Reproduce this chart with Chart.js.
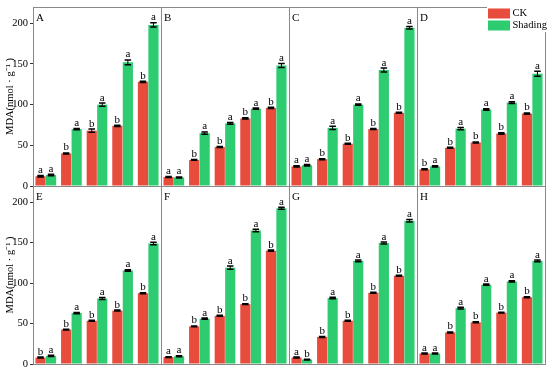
<!DOCTYPE html>
<html>
<head>
<meta charset="utf-8">
<script src="https://cdn.jsdelivr.net/npm/chart.js@4.4.1/dist/chart.umd.min.js"></script>
<style>
html,body{margin:0;padding:0;background:#fff;}
#wrap{position:relative;width:550px;height:380px;}
#wrap canvas{position:absolute;left:0;top:0;}
</style>
</head>
<body>
<div id="wrap"></div>
<script>
// MDA content, CK vs Shading, 8 panels (A-H)

const panelNames = ['A','B','C','D','E','F','G','H'];
const categories = ['S-0','S-7','S-14','S-21','S-28'];
const seriesNames = ['CK','Shading'];
const yTicks = [0, 50, 100, 150, 200];

const ckMeans = [
  [12, 40, 68, 74, 128],
  [11, 32, 48, 83, 96],
  [24, 33, 52, 70, 90],
  [20.5, 47, 53.5, 64.5, 89],
  [8, 42.5, 53.5, 66, 87.5],
  [8.5, 46.5, 59.5, 74, 140],
  [8, 33.5, 53.5, 88, 109],
  [13, 39, 51.5, 63.5, 82.5]
];
const shadingMeans = [
  [13.5, 70, 100, 152, 198],
  [10.5, 65, 77, 95, 148],
  [25.5, 71.5, 100, 142.5, 194.5],
  [24, 70.5, 94, 102.5, 138],
  [10, 63, 81, 115.5, 149],
  [9.5, 56, 119, 165, 192.5],
  [5.5, 81.5, 127.5, 149.5, 177],
  [13, 69, 98, 102, 127.5]
];
const ckErr = [
  [0.8, 0.6, 2, 0.8, 0.8],
  [0.6, 0.5, 0.6, 0.8, 0.8],
  [0.8, 0.6, 0.6, 0.6, 0.6],
  [0.6, 0.6, 0.6, 0.8, 0.8],
  [0.5, 0.6, 0.6, 0.6, 0.6],
  [0.5, 0.6, 0.6, 0.6, 0.8],
  [0.6, 0.6, 0.6, 0.6, 0.6],
  [0.5, 0.6, 0.6, 0.6, 0.6]
];
const shadingErr = [
  [0.8, 0.8, 2, 3, 2.5],
  [0.6, 1.5, 1, 0.8, 2.5],
  [0.8, 2, 0.8, 2.5, 1.5],
  [0.8, 1.5, 0.8, 1.2, 3],
  [0.8, 0.8, 1.2, 1, 1.5],
  [0.6, 0.8, 2, 1.5, 1.2],
  [0.5, 1, 1, 1.2, 1.5],
  [0.5, 1, 0.8, 0.8, 1]
];
const ckLetters = [
  ['a','b','b','b','b'],
  ['a','b','b','b','b'],
  ['a','b','b','b','b'],
  ['b','b','b','b','b'],
  ['b','b','b','b','b'],
  ['a','b','b','b','b'],
  ['a','b','b','b','b'],
  ['a','b','b','b','b']
];
const shadingLetters = [
  ['a','a','a','a','a'],
  ['a','a','a','a','a'],
  ['a','a','a','a','a'],
  ['a','a','a','a','a'],
  ['a','a','a','a','a'],
  ['a','a','a','a','a'],
  ['b','a','a','a','a'],
  ['a','a','a','a','a']
];

// layout of the panel grid (pixels)
const colEdges = [33, 161, 289, 417, 545];
const rowEdges = [7, 186, 364];
const W = 550, H = 380;
const RED = '#E74C3C', GREEN = '#2ECC71', FRAME = '#8a8a8a';
const SERIF = 'Liberation Serif';

const decoPlugin = {
  id: 'deco',
  afterDatasetsDraw(chart) {
    const ctx = chart.ctx, yS = chart.scales.y;
    ctx.save();
    chart.data.datasets.forEach((ds, di) => {
      chart.getDatasetMeta(di).data.forEach((bar, j) => {
        const v = ds.data[j], e = ds.err[j];
        const yt = yS.getPixelForValue(v + e), yb = yS.getPixelForValue(v - e);
        const cw = bar.width * 0.32;
        ctx.strokeStyle = '#000';
        ctx.lineWidth = 1;
        ctx.beginPath();
        ctx.moveTo(bar.x, yt); ctx.lineTo(bar.x, yb);
        ctx.stroke();
        ctx.lineWidth = 1.5;
        ctx.beginPath();
        ctx.moveTo(bar.x - cw, yt); ctx.lineTo(bar.x + cw, yt);
        ctx.moveTo(bar.x - cw, yb); ctx.lineTo(bar.x + cw, yb);
        ctx.stroke();
        ctx.fillStyle = '#000';
        ctx.font = '11px "' + SERIF + '"';
        ctx.textAlign = 'center';
        ctx.textBaseline = 'alphabetic';
        ctx.fillText(ds.sig[j], bar.x, yt - 2.5);
      });
    });
    ctx.restore();
  },
  afterDraw(chart, args, opts) {
    const ctx = chart.ctx, a = chart.chartArea;
    ctx.save();
    ctx.strokeStyle = FRAME;
    ctx.lineWidth = 1;
    ctx.strokeRect(Math.round(a.left) + 0.5, Math.round(a.top) + 0.5,
      Math.round(a.right - a.left), Math.round(a.bottom - a.top));
    ctx.fillStyle = '#000';
    ctx.font = '11px "' + SERIF + '"';
    ctx.textAlign = 'left';
    ctx.textBaseline = 'alphabetic';
    ctx.fillText(panelNames[opts.index], a.left + 3, a.top + 14);
    if (opts.legend) {
      ctx.fillStyle = '#fff';
      ctx.fillRect(487, 0, 63, 32);
      ctx.font = '10.5px "' + SERIF + '"';
      ctx.textBaseline = 'middle';
      [RED, GREEN].forEach((c, i) => {
        const y = 8.5 + i * 12;
        ctx.fillStyle = c;
        ctx.fillRect(488, y, 22, 10);
        ctx.fillStyle = '#000';
        ctx.fillText(seriesNames[i], 512.5, y + 5);
      });
    }
    ctx.restore();
  }
};

const wrap = document.getElementById('wrap');

panelNames.forEach((name, p) => {
  const col = p % 4, row = Math.floor(p / 4);
  const left = colEdges[col], right = colEdges[col + 1];
  const top = rowEdges[row], bottom = rowEdges[row + 1];
  const isLeft = col === 0, isBottom = row === 1;

  const cv = document.createElement('canvas');
  cv.width = W; cv.height = H;
  wrap.appendChild(cv);

  new Chart(cv, {
    type: 'bar',
    data: {
      labels: categories,
      datasets: [
        {label: seriesNames[0], data: ckMeans[p], err: ckErr[p], sig: ckLetters[p], backgroundColor: RED},
        {label: seriesNames[1], data: shadingMeans[p], err: shadingErr[p], sig: shadingLetters[p], backgroundColor: GREEN}
      ]
    },
    options: {
      responsive: false,
      animation: false,
      devicePixelRatio: 1,
      layout: {padding: {left: isLeft ? 0 : left, right: W - right, top: top, bottom: H - bottom}},
      datasets: {bar: {categoryPercentage: 0.82, barPercentage: 0.97, borderWidth: 0}},
      plugins: {legend: {display: false}, tooltip: {enabled: false}, deco: {index: p, legend: p === 3}},
      scales: {
        x: {
          grid: {display: false},
          border: {display: false},
          ticks: {display: isBottom, color: '#000', font: {family: SERIF, size: 10.5}, padding: 3, maxRotation: 0, autoSkip: false},
          afterFit(s) { s.height = 0; s.paddingLeft = s.paddingRight = s.paddingTop = s.paddingBottom = 0; }
        },
        y: {
          min: 0, max: 220,
          afterBuildTicks(s) { s.ticks = yTicks.map(v => ({value: v})); },
          grid: {drawOnChartArea: false, drawTicks: isLeft, tickLength: 3, color: '#333'},
          border: {display: false},
          ticks: {display: isLeft, color: '#000', font: {family: SERIF, size: 10.5}, padding: 2},
          title: {display: isLeft, text: 'MDA(nmol · g⁻¹ )', color: '#000', font: {family: SERIF, size: 10.5}, padding: {top: 4, bottom: 0}},
          afterFit(s) { s.width = isLeft ? left : 0; s.paddingLeft = s.paddingRight = s.paddingTop = s.paddingBottom = 0; }
        }
      }
    },
    plugins: [decoPlugin]
  });
});
</script>
</body>
</html>
